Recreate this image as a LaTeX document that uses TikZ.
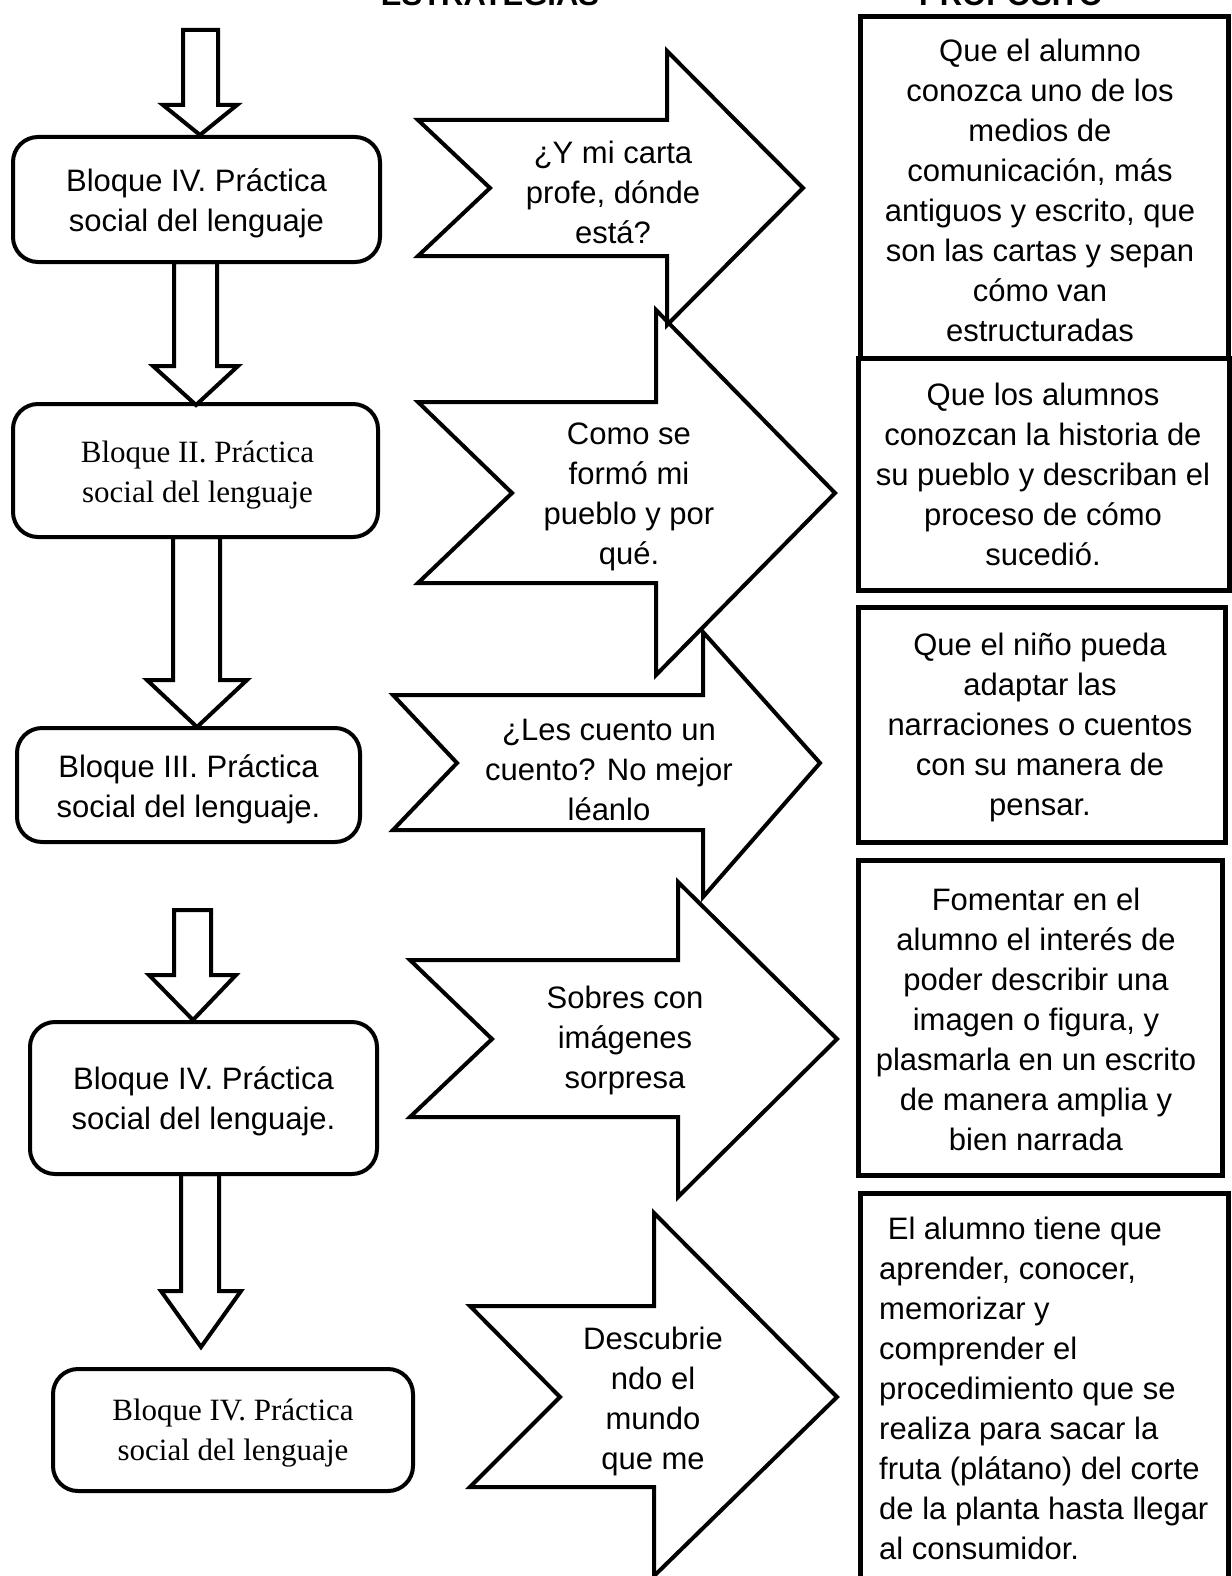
\documentclass[tikz,border=0pt]{standalone}
\usepackage{fontspec}
\setmainfont{Liberation Sans}
\newfontfamily\tmsfont{Liberation Serif}
\newcommand\dnarr[8]{%
  \draw[blk] (#1,#3) -- (#2,#3) -- (#2,#4) -- (#6,#4) -- (#7,#8) -- (#5,#4) -- (#1,#4) -- cycle;}
\newcommand\rtarr[9]{%
  \draw[blk] (#1,#2) -- (#5,#2) -- (#5,#6) -- (#8,#9) -- (#5,#7) -- (#5,#3) -- (#1,#3) -- (#4,#9) -- cycle;}
\begin{document}
\begin{tikzpicture}[x=1pt,y=-1pt,
  blk/.style={draw, line width=4pt, line join=miter},
  txt/.style={font=\fontsize{31}{40}\selectfont, align=center, inner sep=0pt},
  tms/.style={txt, font=\tmsfont\fontsize{31}{40}\selectfont},
  lbox/.style={draw, line width=4pt, rounded corners=25pt, inner sep=0pt},
  rbox/.style={draw, line width=5pt, inner sep=0pt, txt}]
\useasboundingbox (0,0) rectangle (1231,1576);
\fill[white] (0,0) rectangle (1231,1576);

% headers (cut off at the top)
\node[font=\bfseries\fontsize{31}{40}\selectfont, anchor=base, inner sep=0pt] (h1) at (490,6) {ESTRATEGIAS};
\node[font=\bfseries\fontsize{31}{40}\selectfont, anchor=base, inner sep=0pt] (h2) at (1011,6) {PROPÓSITO};

% down block arrows
\dnarr{183}{218}{30}{105}{163}{237}{200}{135}
\dnarr{174}{217}{262}{366}{153}{238}{196}{405}
\dnarr{173}{220}{537}{680}{147}{247}{197}{727}
\dnarr{174}{211}{910}{975}{149}{236}{193}{1020}
\dnarr{181}{219}{1174}{1291}{161}{241}{201}{1347}

% left boxes
\node[lbox, minimum width=367pt, minimum height=125pt] (b1) at (196.5,199.5) {};
\node[lbox, minimum width=365pt, minimum height=133pt] (b2) at (195.5,470.5) {};
\node[lbox, minimum width=343pt, minimum height=114pt] (b3) at (188.5,785) {};
\node[lbox, minimum width=347pt, minimum height=152pt] (b4) at (203.5,1098) {};
\node[lbox, minimum width=360pt, minimum height=122pt] (b5) at (233,1430) {};
\node[txt] (b1t) at ([yshift=-4pt]b1.center) {Bloque IV. Práctica\\social del lenguaje};
\node[tms] (b2t) at ([xshift=2pt,yshift=-5pt]b2.center) {Bloque II. Práctica\\social del lenguaje};
\node[txt] (b3t) at ([yshift=-4pt]b3.center) {Bloque III. Práctica\\social del lenguaje.};
\node[txt] (b4t) at ([yshift=-3pt]b4.center) {Bloque IV. Práctica\\social del lenguaje.};
\node[tms] (b5t) at ([yshift=-3pt]b5.center) {Bloque IV. Práctica\\social del lenguaje};

% right block arrows
\rtarr{418}{120}{256}{490}{667}{51}{325}{803}{188}
\rtarr{418}{402}{583}{512}{656}{310}{675}{835}{493}
\rtarr{393}{695}{830}{457}{703}{632}{897}{820}{763}
\rtarr{410}{960}{1117}{492}{678}{882}{1197}{837}{1039}
\rtarr{470}{1306}{1487}{560}{654}{1213}{1576}{837}{1397}

\node[txt] (s1) at (613,192) {¿Y mi carta\\profe, dónde\\está?};
\node[txt] (s2) at (629,497) {Como se\\formó mi\\pueblo y por\\qué.};
\node[txt] (s3) at (609,770) {¿Les cuento un\\cuento? No mejor\\léanlo};
\node[txt] (s4) at (625,1040) {Sobres con\\imágenes\\sorpresa};
\node[txt] (s5) at (653,1401) {Descubrie\\ndo el\\mundo\\que me};

% right boxes
\node[rbox, minimum width=368pt, minimum height=341pt] (p1) at (1044,187.5) {};
\node[rbox, minimum width=371pt, minimum height=232pt] (p2) at (1043.5,474) {};
\node[rbox, minimum width=367pt, minimum height=235pt] (p3) at (1041.5,724.5) {};
\node[rbox, minimum width=364pt, minimum height=315pt] (p4) at (1040,1017.5) {};
\node[rbox, minimum width=368pt, minimum height=407pt] (p5) at (1044,1396.5) {};
\node[txt] (p1t) at (1040,190) {Que el alumno\\conozca uno de los\\medios de\\comunicación, más\\antiguos y escrito, que\\son las cartas y sepan\\cómo van\\estructuradas};
\node[txt] (p2t) at (1043,474) {Que los alumnos\\conozcan la historia de\\su pueblo y describan el\\proceso de cómo\\sucedió.};
\node[txt] (p3t) at (1040,727) {Que el niño pueda\\adaptar las\\narraciones o cuentos\\con su manera de\\pensar.};
\node[txt] (p4t) at (1036,1019) {Fomentar en el\\alumno el interés de\\poder describir una\\imagen o figura, y\\plasmarla en un escrito\\de manera amplia y\\bien narrada};
\node[txt, align=left, anchor=west] (p5t) at (879,1388) {\ El alumno tiene que\\aprender, conocer,\\memorizar y\\comprender el\\procedimiento que se\\realiza para sacar la\\fruta (plátano) del corte\\de la planta hasta llegar\\al consumidor.};
\end{tikzpicture}
\end{document}
